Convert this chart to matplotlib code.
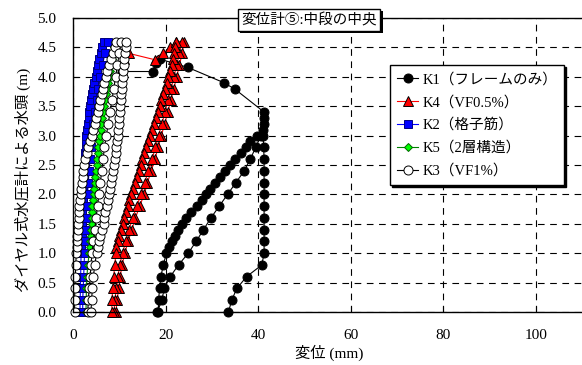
import matplotlib
matplotlib.use("Agg")
import matplotlib.pyplot as plt
import matplotlib.patheffects as pe

plt.rcParams['font.family'] = ['Liberation Serif', 'Noto Sans CJK JP', 'DejaVu Sans']
plt.rcParams['font.size'] = 11

# water head levels (m)
head_fine = [0.0, 0.2, 0.4, 0.6, 0.8, 1.0,
             1.1, 1.2, 1.3, 1.4, 1.5, 1.6, 1.7, 1.8, 1.9, 2.0,
             2.1, 2.2, 2.3, 2.4, 2.5, 2.6, 2.7, 2.8, 2.9, 3.0,
             3.1, 3.2, 3.3, 3.4, 3.5, 3.6, 3.7, 3.8, 3.9, 4.0,
             4.1, 4.2, 4.3, 4.4, 4.5, 4.6]
head_coarse = [0.0, 0.2, 0.4, 0.6, 0.8, 1.0, 1.2, 1.4, 1.6, 1.8, 2.0, 2.2,
               2.4, 2.6, 2.8, 3.0, 3.2, 3.4, 3.6, 3.8, 4.0, 4.2, 4.4, 4.6]

# K1 (frame only) - displacement (mm), in measured order
k1_x = ([33.6, 34.3, 35.4, 37.5, 40.8, 41.3, 41.3, 41.3, 41.3, 41.3, 41.3,
         41.3, 41.3, 41.3, 41.2, 41.1]
        + [40.6, 39.5, 38.3, 37.0, 35.2, 33.4, 31.6, 29.8, 28.2, 26.6, 24.9,
           22.8, 21.0, 19.7, 19.2, 18.2]
        + [18.4, 18.5, 18.7, 19.0, 19.5, 20.2,
           20.8, 21.5, 22.0, 22.7, 23.5, 24.5, 25.6, 26.8, 27.8, 28.8,
           29.7, 30.6, 31.8, 32.9, 34.0, 35.1, 36.2, 37.3, 38.3, 39.8]
        + [41.0, 41.3, 41.3, 41.3]
        + [35.0, 32.6, 24.8, 18.8, 17.9, 17.2, 10.5])
k1_y = ([0.0, 0.2, 0.4, 0.6, 0.8, 1.0, 1.2, 1.4, 1.6, 1.8, 2.0, 2.2, 2.4, 2.6,
         2.8, 3.0]
        + [3.0, 2.8, 2.6, 2.4, 2.2, 2.0, 1.8, 1.6, 1.4, 1.2, 1.0, 0.8, 0.6,
           0.4, 0.2, 0.0]
        + [0.0, 0.2, 0.4, 0.6, 0.8, 1.0,
           1.1, 1.2, 1.3, 1.4, 1.5, 1.6, 1.7, 1.8, 1.9, 2.0,
           2.1, 2.2, 2.3, 2.4, 2.5, 2.6, 2.7, 2.8, 2.9, 3.0]
        + [3.1, 3.2, 3.3, 3.4]
        + [3.79, 3.90, 4.16, 4.30, 4.23, 4.09, 4.09])

# K4 (VF0.5%)
k4_top_x = [11.1, 12.0, 17.7, 19.5, 21.0, 22.3]
k4_top_y = [4.31, 4.40, 4.29, 4.40, 4.50, 4.60]
k4_r1 = [9.3, 9.5, 9.9, 10.2, 10.6, 11.2, 11.9, 12.7, 13.5, 14.4, 15.4, 16.1,
         16.9, 17.7, 18.4, 19.1, 19.8, 20.5, 21.1, 21.8, 22.4, 23.0, 23.6, 24.0]
k4_r2 = [8.9, 9.0, 9.4, 9.7, 10.1, 10.7, 11.4, 12.1, 12.9, 13.8, 14.7, 15.5,
         16.3, 17.1, 17.8, 18.5, 19.2, 19.9, 20.5, 21.2, 21.8, 22.4, 23.0, 23.5]
k4_l = [8.4, 8.4, 8.6, 8.8, 9.0, 9.3,
        9.4, 9.7, 10.0, 10.4, 10.8, 11.1, 11.5, 11.8, 12.2, 12.6,
        13.0, 13.4, 13.8, 14.2, 14.6, 15.0, 15.4, 15.8, 16.2, 16.6,
        17.0, 17.4, 17.9, 18.3, 18.7, 19.1, 19.5, 19.9, 20.3, 20.6,
        21.0, 21.3, 21.6, 21.8, 22.0, 22.2]

# K2 (lattice bars)
k2_b1 = [1.5, 1.55, 1.6, 1.65, 1.7, 1.75,
         1.8, 1.82, 1.85, 1.9, 1.95, 2.0, 2.05, 2.1, 2.15, 2.2,
         2.25, 2.3, 2.4, 2.45, 2.5, 2.6, 2.65, 2.75, 2.8, 2.9,
         3.0, 3.15, 3.35, 3.55, 3.75, 3.9, 4.1, 4.4, 4.6, 4.9,
         5.15, 5.4, 5.7, 6.0, 6.3, 6.6]
k2_b2 = [2.1, 2.1, 2.2, 2.3, 2.4, 2.5, 2.6, 2.7, 2.85, 3.0, 3.15, 3.3,
         3.5, 3.7, 3.9, 4.15, 4.4, 4.75, 5.1, 5.5, 5.9, 6.4, 6.9, 7.5]

# K5 (two-layer structure)
k5_g1 = [2.8, 2.85, 2.9, 3.0, 3.2, 3.5,
         3.6, 3.7, 3.8, 3.9, 4.0, 4.05, 4.1, 4.2, 4.35, 4.5,
         4.6, 4.7, 4.85, 5.0, 5.1, 5.2, 5.35, 5.5, 5.65, 5.8,
         5.95, 6.1, 6.3, 6.5, 6.7, 6.9, 7.15, 7.4, 7.65, 7.9,
         8.1, 8.3, 8.5, 8.7, 8.85, 9.0]

# K3 (VF1%)
k3_w1 = [0.35, 0.35, 0.4, 0.5, 0.6, 0.7,
         0.8, 0.85, 0.95, 1.0, 1.1, 1.2, 1.3, 1.4, 1.55, 1.65,
         1.8, 1.95, 2.1, 2.25, 2.4, 2.6, 3.0, 3.3, 3.7, 4.1,
         4.4, 4.7, 5.0, 5.3, 5.6, 5.9, 6.2, 6.5, 6.8, 7.1,
         7.4, 7.8, 8.2, 8.6, 9.0, 9.4]
k3_w2 = [3.2, 3.3, 3.5, 3.7, 3.9, 4.1, 4.4, 4.7, 5.0, 5.3, 5.6, 5.9,
         6.2, 6.5, 6.8, 7.2, 7.6, 8.0, 8.4, 8.8, 9.2, 9.6, 10.0, 10.4]
k3_w3 = [3.9, 4.0, 4.2, 4.4, 4.7, 5.1,
         5.3, 5.6, 5.9, 6.2, 6.6, 6.8, 7.0, 7.3, 7.5, 7.8,
         8.0, 8.2, 8.4, 8.6, 8.8, 9.0, 9.2, 9.4, 9.5, 9.7,
         9.8, 9.9, 10.0, 10.1, 10.2, 10.3, 10.4, 10.5, 10.6, 10.8,
         10.9, 11.0, 11.1, 11.2, 11.4, 11.5]

labels = ['K1（フレームのみ）', 'K4（VF0.5%）', 'K2（格子筋）', 'K5（2層構造）', 'K3（VF1%）']

# join the branches into one path per series
k4_x = k4_top_x + k4_r1[::-1] + k4_r2 + k4_l[::-1]
k4_y = k4_top_y + head_coarse[::-1] + head_coarse + head_fine[::-1]
k2_x = k2_b1 + k2_b2[::-1]
k2_y = head_fine + head_coarse[::-1]
k5_x = k5_g1
k5_y = head_fine
k3_x = k3_w1 + k3_w2[::-1] + k3_w3
k3_y = head_fine + head_coarse[::-1] + head_fine

fig = plt.figure(figsize=(5.82, 3.65), dpi=100)
ax = fig.add_axes([73 / 582, 53 / 365, 509 / 582, 294 / 365])

common = dict(lw=0.8, mew=0.7, clip_on=False)
ax.plot(k1_x, k1_y, '-o', color='black', mfc='black', mec='black', ms=6.5,
        label=labels[0], **common)
ax.plot(k4_x, k4_y, '-^', color='red', mfc='red', mec='black', ms=7,
        label=labels[1], **common)
ax.plot(k2_x, k2_y, '-s', color='blue', mfc='blue', mec='#000080', ms=5.5,
        label=labels[2], **common)
ax.plot(k5_x, k5_y, '-D', color='green', mfc='#00ff00', mec='#006400', ms=4.5,
        label=labels[3], **common)
ax.plot(k3_x, k3_y, '-o', color='black', mfc='white', mec='black', ms=6.5,
        label=labels[4], **common)

ax.set_xlim(0, 110)
ax.set_ylim(0, 5.0)
ax.set_xticks([0, 20, 40, 60, 80, 100])
ax.set_yticks([0.0, 0.5, 1.0, 1.5, 2.0, 2.5, 3.0, 3.5, 4.0, 4.5, 5.0])
ax.set_yticklabels([f'{v:.1f}' for v in ax.get_yticks()])
ax.tick_params(direction='in', length=4, width=0.8, pad=12, labelsize=11)
ax.grid(True, color='black', lw=0.8, ls=(0, (6, 5)))
ax.spines['right'].set_visible(False)
for s in ['left', 'bottom', 'top']:
    ax.spines[s].set_linewidth(1.0)

ax.set_xlabel('変位 (mm)', fontsize=11)
ax.set_ylabel('ダイヤル式水圧計による水頭 (m)', fontsize=11)
ax.xaxis.set_label_coords(0.503, -0.11)
ax.yaxis.set_label_coords(-0.083, 0.45)

# title box with a black drop shadow
title = ax.text(0.4636, 0.993, '変位計⑤:中段の中央', transform=ax.transAxes,
                ha='center', va='center', fontsize=10.5, zorder=10,
                bbox=dict(boxstyle='square,pad=0.25', fc='white', ec='black', lw=1.0))
title.get_bbox_patch().set_path_effects([
    pe.SimplePatchShadow(offset=(1.5, -1.5), shadow_rgbFace='black', alpha=1),
    pe.Normal()])

leg = ax.legend(loc='upper left', bbox_to_anchor=(0.623, 0.840), borderaxespad=0,
                fancybox=False, edgecolor='black', framealpha=1, fontsize=10.5,
                handlelength=1.4, handletextpad=0.3, labelspacing=0.62,
                borderpad=0.5,
                shadow={'color': 'black', 'alpha': 1, 'ox': 1.5, 'oy': -1.5})
leg.get_frame().set_linewidth(1.0)
leg.set_zorder(10)

fig.savefig('out.png', dpi=100)
